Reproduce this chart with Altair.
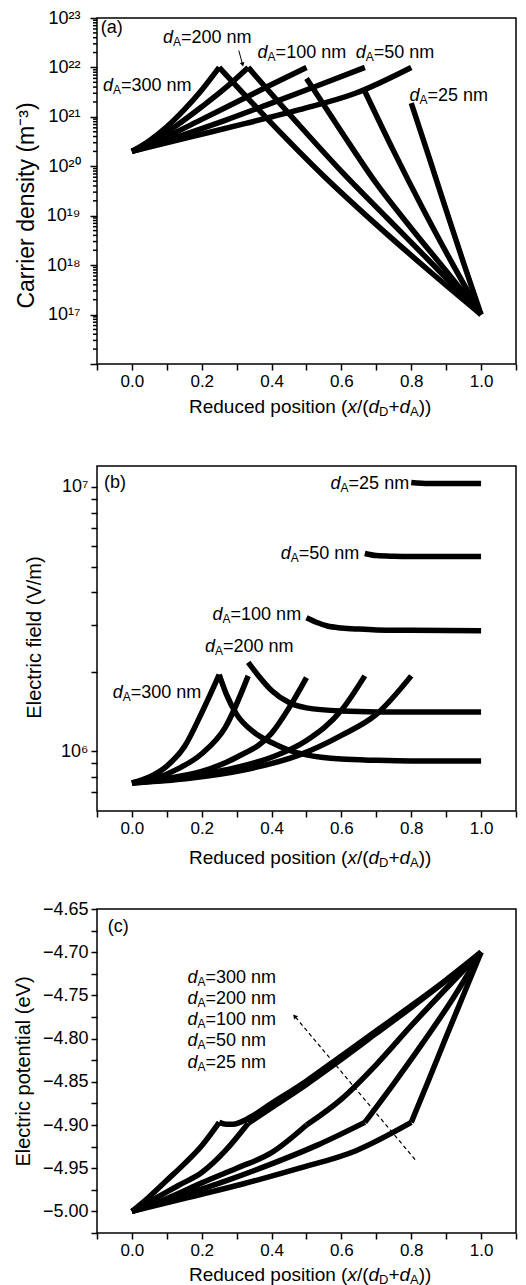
import altair as alt
import pandas as pd

FONT = "Liberation Sans"
PLOT_W = 419
H_A, H_B, H_C = 346, 345, 324

# ---------------- (a) carrier density ----------------
A300_UP_X = [0.0, 0.05, 0.10, 0.15, 0.20, 0.25]
A300_UP_N = [2.0e20, 3.3e20, 6.3e20, 1.4e21, 3.5e21, 1.0e22]
A300_DN_X = [0.25, 0.40, 0.55, 0.70, 0.85, 1.0]
A300_DN_N = [1.0e22, 7.4e20, 6.3e19, 6.6e18, 7.8e17, 1.0e17]
A200_UP_X = [0.0, 0.067, 0.133, 0.20, 0.267, 0.333]
A200_UP_N = [2.0e20, 3.5e20, 7.1e20, 1.6e21, 3.8e21, 1.0e22]
A200_DN_X = [0.333, 0.467, 0.60, 0.733, 0.867, 1.0]
A200_DN_N = [1.0e22, 8.5e20, 7.9e19, 8.7e18, 9.5e17, 1.0e17]
A100_UP_X = [0.0, 0.10, 0.20, 0.30, 0.40, 0.50]
A100_UP_N = [2.0e20, 4.0e20, 8.9e20, 2.0e21, 4.5e21, 1.0e22]
A100_DN_X = [0.50, 0.60, 0.70, 0.80, 0.90, 1.0]
A100_DN_N = [6.0e21, 5.0e20, 4.5e19, 5.6e18, 7.6e17, 1.0e17]
A50_UP_X = [0.0, 0.133, 0.267, 0.40, 0.533, 0.667]
A50_UP_N = [2.0e20, 4.0e20, 8.5e20, 1.9e21, 4.3e21, 1.0e22]
A50_DN_X = [0.667, 0.75, 0.833, 0.917, 1.0]
A50_DN_N = [3.3e21, 2.0e20, 1.4e19, 1.1e18, 1.0e17]
A25_UP_X = [0.0, 0.16, 0.32, 0.48, 0.64, 0.80]
A25_UP_N = [2.0e20, 3.8e20, 7.2e20, 1.4e21, 3.0e21, 1.0e22]
A25_DN_X = [0.80, 0.85, 0.90, 0.95, 1.0]
A25_DN_N = [1.9e21, 1.6e20, 1.3e19, 1.1e18, 1.0e17]

LAB_A_X = [-0.083, 0.089, 0.360, 0.641, 0.795]
LAB_A_Y = [4.2e21, 3.9e22, 1.94e22, 1.94e22, 2.6e21]
LAB_A_T = ["=300 nm", "=200 nm", "=100 nm", "=50 nm", "=25 nm"]
ARROW_A = {"x": [0.306], "y": [2.2e22], "x2": [0.317], "y2": [1.15e22]}
TAG_A = {"x": [-0.089], "y": [6.2e22], "t": ["(a)"]}

# ---------------- (b) electric field ----------------
B300_UP_X = [0.0, 0.05, 0.10, 0.15, 0.20, 0.25]
B300_UP_E = [7.6e5, 8.0e5, 8.8e5, 1.04e6, 1.40e6, 1.95e6]
B300_DN_X = [0.25, 0.27, 0.30, 0.35, 0.40, 0.45, 0.50, 0.60, 0.70, 0.80, 1.0]
B300_DN_E = [1.95e6, 1.65e6, 1.38e6, 1.18e6, 1.08e6, 1.01e6, 9.7e5, 9.35e5, 9.25e5, 9.2e5, 9.2e5]
B200_UP_X = [0.0, 0.067, 0.133, 0.20, 0.267, 0.333]
B200_UP_E = [7.6e5, 7.9e5, 8.6e5, 9.8e5, 1.23e6, 1.93e6]
B200_DN_X = [0.333, 0.36, 0.40, 0.45, 0.50, 0.60, 0.70, 0.80, 1.0]
B200_DN_E = [2.17e6, 1.95e6, 1.70e6, 1.53e6, 1.46e6, 1.42e6, 1.41e6, 1.41e6, 1.41e6]
B100_UP_X = [0.0, 0.10, 0.20, 0.30, 0.40, 0.45, 0.50]
B100_UP_E = [7.6e5, 7.9e5, 8.4e5, 9.5e5, 1.17e6, 1.46e6, 1.90e6]
B100_DN_X = [0.50, 0.53, 0.56, 0.60, 0.65, 0.70, 0.80, 1.0]
B100_DN_E = [3.2e6, 3.07e6, 2.98e6, 2.93e6, 2.90e6, 2.88e6, 2.87e6, 2.86e6]
B50_UP_X = [0.0, 0.133, 0.267, 0.40, 0.50, 0.60, 0.667]
B50_UP_E = [7.6e5, 7.9e5, 8.5e5, 9.5e5, 1.10e6, 1.43e6, 1.93e6]
B50_DN_X = [0.667, 0.70, 0.75, 0.80, 1.0]
B50_DN_E = [5.6e6, 5.5e6, 5.47e6, 5.46e6, 5.46e6]
B25_UP_X = [0.0, 0.16, 0.32, 0.48, 0.60, 0.70, 0.80]
B25_UP_E = [7.6e5, 7.9e5, 8.5e5, 9.7e5, 1.15e6, 1.38e6, 1.93e6]
B25_DN_X = [0.80, 0.85, 1.0]
B25_DN_E = [1.04e7, 1.03e7, 1.03e7]

LAB_B_X = [-0.055, 0.209, 0.231, 0.426, 0.569]
LAB_B_Y = [1.66e6, 2.48e6, 3.27e6, 5.57e6, 1.026e7]
LAB_B_T = ["=300 nm", "=200 nm", "=100 nm", "=50 nm", "=25 nm"]
TAG_B = {"x": [-0.08], "y": [1.035e7], "t": ["(b)"]}

# ---------------- (c) electric potential ----------------
C300_UP_X = [0.0, 0.05, 0.10, 0.15, 0.20, 0.25]
C300_UP_V = [-5.0, -4.983, -4.964, -4.945, -4.924, -4.897]
C300_DN_X = [0.25, 0.27, 0.29, 0.33, 0.40, 0.50, 0.60, 0.70, 0.80, 0.90, 1.0]
C300_DN_V = [-4.897, -4.899, -4.899, -4.893, -4.875, -4.849, -4.820, -4.791, -4.762, -4.732, -4.70]
C200_UP_X = [0.0, 0.067, 0.133, 0.20, 0.267, 0.333]
C200_UP_V = [-5.0, -4.985, -4.970, -4.955, -4.930, -4.898]
C200_DN_X = [0.333, 0.40, 0.50, 0.60, 0.70, 0.80, 0.90, 1.0]
C200_DN_V = [-4.898, -4.880, -4.853, -4.824, -4.794, -4.764, -4.733, -4.70]
C100_UP_X = [0.0, 0.10, 0.20, 0.30, 0.40, 0.50]
C100_UP_V = [-5.0, -4.985, -4.967, -4.950, -4.932, -4.90]
C100_DN_X = [0.50, 0.60, 0.70, 0.80, 0.90, 1.0]
C100_DN_V = [-4.90, -4.870, -4.830, -4.785, -4.742, -4.70]
C50_UP_X = [0.0, 0.133, 0.267, 0.40, 0.533, 0.667]
C50_UP_V = [-5.0, -4.983, -4.965, -4.945, -4.923, -4.897]
C50_DN_X = [0.667, 0.75, 0.833, 0.917, 1.0]
C50_DN_V = [-4.897, -4.852, -4.805, -4.755, -4.70]
C25_UP_X = [0.0, 0.16, 0.32, 0.48, 0.64, 0.80]
C25_UP_V = [-5.0, -4.984, -4.968, -4.950, -4.930, -4.897]
C25_DN_X = [0.80, 0.85, 0.90, 0.95, 1.0]
C25_DN_V = [-4.897, -4.848, -4.798, -4.749, -4.70]

LAB_C_X = [0.159, 0.159, 0.159, 0.159, 0.159]
LAB_C_Y = [-4.730, -4.754, -4.779, -4.803, -4.828]
LAB_C_T = ["=300 nm", "=200 nm", "=100 nm", "=50 nm", "=25 nm"]
ARROW_C = {"x": [0.811], "y": [-4.940], "x2": [0.466], "y2": [-4.774]}
TAG_C = {"x": [-0.069], "y": [-4.671], "t": ["(c)"]}

# ---------------- axes ----------------
X_TICKS = [-0.1, 0.0, 0.1, 0.2, 0.3, 0.4, 0.5, 0.6, 0.7, 0.8, 0.9, 1.0, 1.1]
A_DECADES = [17, 18, 19, 20, 21, 22, 23]
A_MAJOR = [1e16, 1e17, 1e18, 1e19, 1e20, 1e21, 1e22, 1e23]
A_MINOR = [m * 10.0 ** e for e in range(16, 23) for m in range(2, 10)]
B_TICKS = [7e5, 8e5, 9e5, 1e6, 2e6, 3e6, 4e6, 5e6, 6e6, 7e6, 8e6, 9e6, 1e7]
C_TICKS = [-5.025, -5.0, -4.975, -4.95, -4.925, -4.9, -4.875, -4.85, -4.825,
           -4.8, -4.775, -4.75, -4.725, -4.7, -4.675, -4.65]

SUP = str.maketrans("0123456789", "⁰¹²³⁴⁵⁶⁷⁸⁹")


def decade_expr(exps):
    parts = [f"abs(datum.value/1e{e}-1)<1e-6 ? '10{str(e).translate(SUP)}'" for e in exps]
    return " : ".join(parts) + " : ''"


AW = {"R": .722, "e": .556, "d": .556, "u": .556, "c": .5, " ": .278, "p": .556,
      "o": .556, "s": .5, "i": .222, "t": .278, "n": .556, "(": .333, ")": .333,
      "x": .5, "/": .278, "D": .722, "+": .584, "A": .667}


def tw(s, size):
    return sum(AW.get(ch, 0.556) for ch in s) * size


TITLE_PIECES = [("Reduced position (", 19, "normal", 0), ("x", 19, "italic", 0),
                ("/(", 19, "normal", 0), ("d", 19, "italic", 0), ("D", 13, "normal", 5),
                ("+", 19, "normal", 0), ("d", 19, "italic", 0), ("A", 13, "normal", 5),
                ("))", 19, "normal", 0)]


def x_title_layers(h, off):
    layers = []
    cx = 92.0
    for txt, size, style, dy in TITLE_PIECES:
        layers.append(
            alt.Chart(pd.DataFrame({"t": [txt]})).mark_text(
                font=FONT, fontSize=size, fontStyle=style, align="left",
                baseline="middle", color="black"
            ).encode(x=alt.value(cx), y=alt.value(h + off + dy), text="t:N")
        )
        cx += tw(txt, size)
    return layers


def segs(pairs):
    rows = []
    for name, xs, ys in pairs:
        rows += [{"seg": name, "x": x, "y": y} for x, y in zip(xs, ys)]
    return pd.DataFrame(rows)


AX_COMMON = dict(ticks=True, tickColor="black", tickWidth=1.5, tickOpacity=1,
                 domain=False, labelColor="black", grid=False, zindex=2,
                 labelOverlap=False, labelFlush=False)


def x_enc():
    return alt.X(
        "x:Q",
        scale=alt.Scale(domain=[-0.1, 1.1], nice=False, zero=False),
        axis=alt.Axis(values=X_TICKS, title=None, labelFontSize=17, labelPadding=3, tickSize=6,
                      labelExpr="(abs(round(datum.value*10)) % 2 == 0) ? format(datum.value, '.1f') : ''",
                      **AX_COMMON),
    )


TICK_W = 1.5


def yticks_layer(vals, ye, length):
    return alt.Chart(pd.DataFrame({"y": vals})).mark_tick(
        color="black", thickness=TICK_W, size=length, orient="horizontal", opacity=1,
        clip=False).encode(y=ye, x=alt.value(-length / 2.0))


def dlabels(df, xe, ye, size=18):
    base = alt.Chart(df)
    d = base.mark_text(text="d", font=FONT, fontSize=size, fontStyle="italic", align="left",
                       baseline="middle", color="black").encode(x=xe, y=ye)
    a = base.mark_text(text="A", font=FONT, fontSize=12, align="left", baseline="middle",
                       dx=10, dy=4, color="black").encode(x=xe, y=ye)
    r = base.mark_text(font=FONT, fontSize=size, align="left", baseline="middle", dx=18,
                       color="black").encode(x=xe, y=ye, text="t:N")
    return [d, a, r]


def lines_layer(df, xe, ye):
    return alt.Chart(df).mark_line(color="black", strokeWidth=5.5, interpolate="monotone").encode(
        x=xe, y=ye, detail="seg:N")


def tag_layer(d, xe, ye):
    return alt.Chart(pd.DataFrame(d)).mark_text(font=FONT, fontSize=18, align="left",
                                                baseline="middle", color="black").encode(
        x=xe, y=ye, text="t:N")


# ---------------- panel (a) ----------------
xa = x_enc()
ya = alt.Y(
    "y:Q",
    scale=alt.Scale(type="log", domain=[1e16, 1e23], nice=False),
    axis=alt.Axis(values=A_MAJOR, labelExpr=decade_expr(A_DECADES),
                  labelFontSize=18, labelPadding=10, tickSize=7,
                  title="Carrier density (m⁻³)", titleFontSize=23, titleX=-71, titleY=187,
                  titleBaseline="middle", **AX_COMMON),
)
df_a = segs([
    ("300u", A300_UP_X, A300_UP_N), ("300d", A300_DN_X, A300_DN_N),
    ("200u", A200_UP_X, A200_UP_N), ("200d", A200_DN_X, A200_DN_N),
    ("100u", A100_UP_X, A100_UP_N), ("100d", A100_DN_X, A100_DN_N),
    ("50u", A50_UP_X, A50_UP_N), ("50d", A50_DN_X, A50_DN_N),
    ("25u", A25_UP_X, A25_UP_N), ("25d", A25_DN_X, A25_DN_N),
])
arrow_a = alt.Chart(pd.DataFrame(ARROW_A)).mark_rule(color="black", strokeWidth=1).encode(
    x=xa, y=ya, x2=alt.X2("x2"), y2=alt.Y2("y2"))
head_a = alt.Chart(pd.DataFrame({"x": ARROW_A["x2"], "y": ARROW_A["y2"]})).mark_point(
    shape="triangle-up", angle=166, size=22, filled=True, color="black", opacity=1).encode(x=xa, y=ya)
layers_a = [lines_layer(df_a, xa, ya), yticks_layer(A_MINOR, ya, 4)] \
    + dlabels(pd.DataFrame({"x": LAB_A_X, "y": LAB_A_Y, "t": LAB_A_T}), xa, ya) \
    + [arrow_a, head_a, tag_layer(TAG_A, xa, ya)] + x_title_layers(H_A, 43)
chart_a = alt.layer(*layers_a).properties(width=PLOT_W, height=H_A)

# ---------------- panel (b) ----------------
xb = x_enc()
yb = alt.Y(
    "y:Q",
    scale=alt.Scale(type="log", domain=[5.95e5, 1.2e7], nice=False),
    axis=alt.Axis(values=B_TICKS, labelExpr=decade_expr([6, 7]),
                  labelFontSize=18, labelPadding=3, tickSize=6,
                  title="Electric field (V/m)", titleFontSize=20, titleX=-63, titleY=171,
                  titleBaseline="middle", **AX_COMMON),
)
df_b = segs([
    ("300u", B300_UP_X, B300_UP_E), ("300d", B300_DN_X, B300_DN_E),
    ("200u", B200_UP_X, B200_UP_E), ("200d", B200_DN_X, B200_DN_E),
    ("100u", B100_UP_X, B100_UP_E), ("100d", B100_DN_X, B100_DN_E),
    ("50u", B50_UP_X, B50_UP_E), ("50d", B50_DN_X, B50_DN_E),
    ("25u", B25_UP_X, B25_UP_E), ("25d", B25_DN_X, B25_DN_E),
])
spacer_b = alt.Chart(pd.DataFrame({"t": ["."]})).mark_text(
    font=FONT, fontSize=8, color="white", baseline="top", align="left").encode(
    x=alt.value(2), y=alt.value(-17), text="t:N")
layers_b = [lines_layer(df_b, xb, yb)] \
    + dlabels(pd.DataFrame({"x": LAB_B_X, "y": LAB_B_Y, "t": LAB_B_T}), xb, yb) \
    + [tag_layer(TAG_B, xb, yb), spacer_b] + x_title_layers(H_B, 47)
chart_b = alt.layer(*layers_b).properties(width=PLOT_W, height=H_B)

# ---------------- panel (c) ----------------
xc = x_enc()
yc = alt.Y(
    "y:Q",
    scale=alt.Scale(domain=[-5.025, -4.65], nice=False, zero=False),
    axis=alt.Axis(values=C_TICKS, labelFontSize=18, labelPadding=3, tickSize=6,
                  labelExpr="(abs(round(datum.value*40)) % 2 == 0) ? format(datum.value, '.2f') : ''",
                  title="Electric potential (eV)", titleFontSize=20, titleX=-74, titleY=162,
                  titleBaseline="middle", **AX_COMMON),
)
df_c = segs([
    ("300u", C300_UP_X, C300_UP_V), ("300d", C300_DN_X, C300_DN_V),
    ("200u", C200_UP_X, C200_UP_V), ("200d", C200_DN_X, C200_DN_V),
    ("100u", C100_UP_X, C100_UP_V), ("100d", C100_DN_X, C100_DN_V),
    ("50u", C50_UP_X, C50_UP_V), ("50d", C50_DN_X, C50_DN_V),
    ("25u", C25_UP_X, C25_UP_V), ("25d", C25_DN_X, C25_DN_V),
])
arrow_c = alt.Chart(pd.DataFrame(ARROW_C)).mark_rule(color="black", strokeWidth=1.2, strokeDash=[4, 3]).encode(
    x=xc, y=yc, x2=alt.X2("x2"), y2=alt.Y2("y2"))
head_c = alt.Chart(pd.DataFrame({"x": ARROW_C["x2"], "y": ARROW_C["y2"]})).mark_point(
    shape="triangle-up", angle=320, size=28, filled=True, color="black", opacity=1).encode(x=xc, y=yc)
spacer_c = alt.Chart(pd.DataFrame({"t": ["."]})).mark_text(
    font=FONT, fontSize=8, color="white", baseline="middle", align="left").encode(
    x=alt.value(-88), y=alt.value(100), text="t:N")
layers_c = [lines_layer(df_c, xc, yc)] \
    + dlabels(pd.DataFrame({"x": LAB_C_X, "y": LAB_C_Y, "t": LAB_C_T}), xc, yc) \
    + [arrow_c, head_c, tag_layer(TAG_C, xc, yc), spacer_c] + x_title_layers(H_C, 42)
chart_c = alt.layer(*layers_c).properties(width=PLOT_W, height=H_C)

chart = alt.vconcat(chart_a, chart_b, chart_c, spacing=28).properties(
    padding={"top": 0, "left": 0, "right": 0, "bottom": 0}
).configure_view(stroke="black", strokeWidth=1.5).configure_axis(
    labelColor="black", titleColor="black", tickColor="black", ticks=True,
    labelFont=FONT, titleFont=FONT, titleFontWeight="normal", grid=False,
)

chart.save("out.html", embed_options={"renderer": "svg", "actions": False})
